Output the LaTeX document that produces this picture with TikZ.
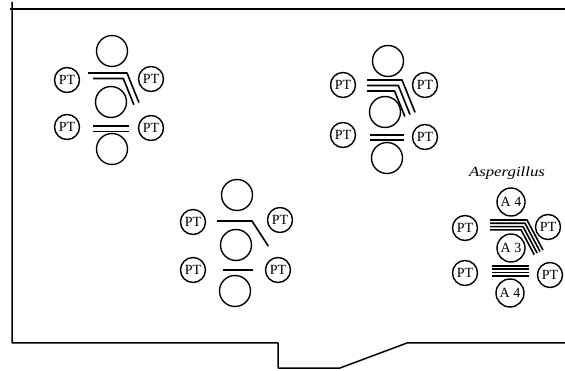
\documentclass[tikz,border=0pt]{standalone}
\usepackage{fontspec}
\setmainfont{Liberation Serif}
\begin{document}
\begin{tikzpicture}[x=1pt,y=-1pt,line join=round]
	\tikzset{every node/.style={inner sep=0pt},
		big/.style={draw,circle,minimum size=31pt,line width=1.4pt},
		pt/.style={draw,circle,minimum size=25pt,line width=1.4pt,font=\fontsize{14}{14}\selectfont},
		fa/.style={draw,circle,minimum size=28pt,line width=1.4pt,font=\fontsize{14}{14}\selectfont},
		bar/.style={line width=1.6pt},
		wall/.style={line width=1.5pt}}
	\useasboundingbox (0,0) rectangle (565,371);
	% walls of the room
	\draw[wall] (12,2)--(12,343)--(278,343)--(278,368)--(340,368)--(407,343)--(565,343);
	\draw[wall] (10,9)--(565,9);
	% plain plates
	\foreach \n/\x/\y in {c1t/112/51,c1m/111/102,c1b/112/149,
		c2t/388/61,c2m/385/112,c2b/387/158,
		c3t/237/195,c3m/236/245,c3b/235/291}
	\node[big] (\n) at (\x,\y) {};
	\foreach \n/\x/\y in {c1a/67/80,c1c/151/79,c1d/67/127,c1e/151/128,
		c2a/343/85,c2c/425/85,c2d/343/135,c2e/425/137,
		c3a/193/222,c3c/280/220,c3d/193/270,c3e/278/270,
		c4a/465/228,c4c/548/227,c4d/465/273,c4e/550/275}
	\node[pt] (\n) at (\x,\y) {PT};
	% Aspergillus plates
	\node[font=\itshape\fontsize{14}{14}\selectfont] (asp) at (507,173) {\scalebox{1.2}[1]{Aspergillus}};
	\node[fa] (c4t) at (511,202) {A 4};
	\node[fa] (c4m) at (511,248) {A 3};
	\node[fa] (c4b) at (510,293) {A 4};
	% bent bars
	\foreach \lx/\by/\bx/\a/\l/\n/\t/\s in {88/73/127/68/32/1/5.5/5,367/80/402/68/35/2/5.5/0,
		217/221/252/57/30/0/0/0,490/220/527/62/34/3/3.3/0}
	\foreach \k in {0,...,\n}
	\draw[bar] ({\lx+\s*\k},{\by+\t*\k})--({\bx-\t*\k*tan(\a/2)},{\by+\t*\k})--++(\a:{\l-\t*\k*tan(\a/2)});
	% straight bars
	\foreach \xa/\xb/\y/\n/\t in {93/129/126/1/5.5,370/404/135/1/5,223/253/270/0/0,492/529/266/3/3.3}
	\foreach \k in {0,...,\n}
	\draw[bar] (\xa,{\y+\t*\k})--(\xb,{\y+\t*\k});
\end{tikzpicture}
\end{document}
